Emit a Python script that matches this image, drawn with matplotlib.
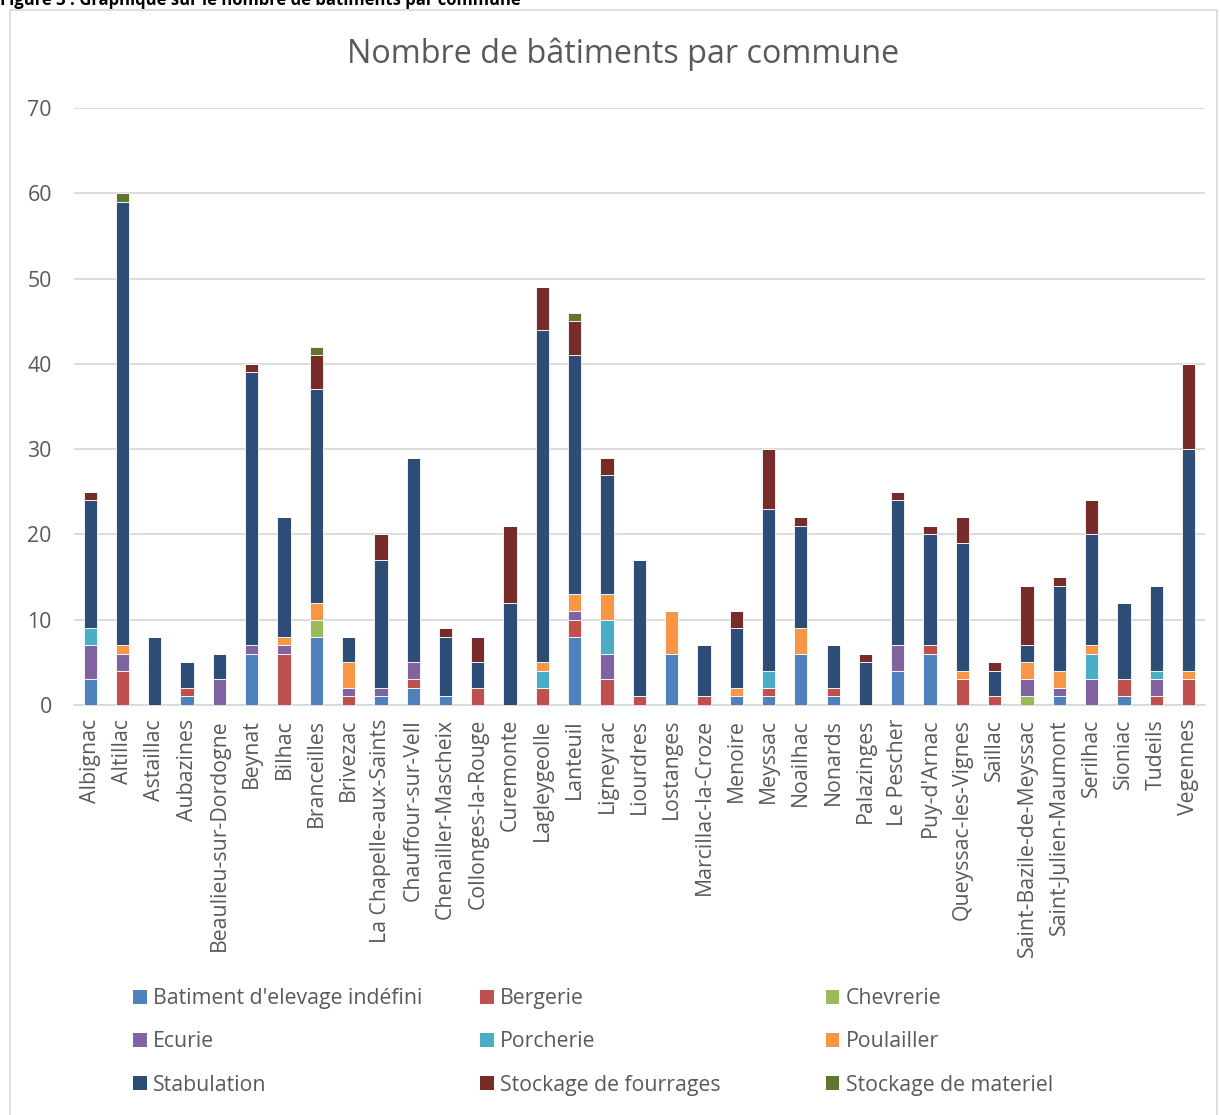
import numpy as np
import matplotlib
matplotlib.use("Agg")
import matplotlib.pyplot as plt
from matplotlib.patches import Rectangle, Patch

plt.rcParams['font.family'] = ['Open Sans', 'DejaVu Sans']

communes = ["Albignac", "Altillac", "Astaillac", "Aubazines", "Beaulieu-sur-Dordogne",
            "Beynat", "Bilhac", "Branceilles", "Brivezac", "La Chapelle-aux-Saints",
            "Chauffour-sur-Vell", "Chenailler-Mascheix", "Collonges-la-Rouge", "Curemonte",
            "Lagleygeolle", "Lanteuil", "Ligneyrac", "Liourdres", "Lostanges",
            "Marcillac-la-Croze", "Menoire", "Meyssac", "Noailhac", "Nonards", "Palazinges",
            "Le Pescher", "Puy-d'Arnac", "Queyssac-les-Vignes", "Saillac",
            "Saint-Bazile-de-Meyssac", "Saint-Julien-Maumont", "Serilhac", "Sioniac",
            "Tudeils", "Vegennes"]

# one value per commune, in the order above
batiment_indefini = [3, 0, 0, 1, 0, 6, 0, 8, 0, 1, 2, 1, 0, 0, 0, 8, 0, 0, 6, 0, 1, 1, 6, 1, 0, 4, 6, 0, 0, 0, 1, 0, 1, 0, 0]
bergerie          = [0, 4, 0, 1, 0, 0, 6, 0, 1, 0, 1, 0, 2, 0, 2, 2, 3, 1, 0, 1, 0, 1, 0, 1, 0, 0, 1, 3, 1, 0, 0, 0, 2, 1, 3]
chevrerie         = [0, 0, 0, 0, 0, 0, 0, 2, 0, 0, 0, 0, 0, 0, 0, 0, 0, 0, 0, 0, 0, 0, 0, 0, 0, 0, 0, 0, 0, 1, 0, 0, 0, 0, 0]
ecurie            = [4, 2, 0, 0, 3, 1, 1, 0, 1, 1, 2, 0, 0, 0, 0, 1, 3, 0, 0, 0, 0, 0, 0, 0, 0, 3, 0, 0, 0, 2, 1, 3, 0, 2, 0]
porcherie         = [2, 0, 0, 0, 0, 0, 0, 0, 0, 0, 0, 0, 0, 0, 2, 0, 4, 0, 0, 0, 0, 2, 0, 0, 0, 0, 0, 0, 0, 0, 0, 3, 0, 1, 0]
poulailler        = [0, 1, 0, 0, 0, 0, 1, 2, 3, 0, 0, 0, 0, 0, 1, 2, 3, 0, 5, 0, 1, 0, 3, 0, 0, 0, 0, 1, 0, 2, 2, 1, 0, 0, 1]
stabulation       = [15, 52, 8, 3, 3, 32, 14, 25, 3, 15, 24, 7, 3, 12, 39, 28, 14, 16, 0, 6, 7, 19, 12, 5, 5, 17, 13, 15, 3, 2, 10, 13, 9, 10, 26]
stockage_fourrage = [1, 0, 0, 0, 0, 1, 0, 4, 0, 3, 0, 1, 3, 9, 5, 4, 2, 0, 0, 0, 2, 7, 1, 0, 1, 1, 1, 3, 1, 7, 1, 4, 0, 0, 10]
stockage_materiel = [0, 1, 0, 0, 0, 0, 0, 1, 0, 0, 0, 0, 0, 0, 0, 1, 0, 0, 0, 0, 0, 0, 0, 0, 0, 0, 0, 0, 0, 0, 0, 0, 0, 0, 0]

series = [
    ("Batiment d'elevage indéfini", batiment_indefini, "#4F81BD"),
    ("Bergerie", bergerie, "#C0504D"),
    ("Chevrerie", chevrerie, "#9BBB59"),
    ("Ecurie", ecurie, "#8064A2"),
    ("Porcherie", porcherie, "#4BACC6"),
    ("Poulailler", poulailler, "#F79646"),
    ("Stabulation", stabulation, "#2C4D75"),
    ("Stockage de fourrages", stockage_fourrage, "#772C2A"),
    ("Stockage de materiel", stockage_materiel, "#5F7530"),
]

grey = "#595959"

fig = plt.figure(figsize=(12.21, 11.15), dpi=100)
ax = fig.add_axes([0.0606, 0.3677, 0.926, 0.5354])

x = np.arange(len(communes))
bottom = np.zeros(len(communes))
for name, vals, col in series:
    vals = np.array(vals, dtype=float)
    ax.bar(x, vals, 0.41, bottom=bottom, color=col, edgecolor="#FFFFFF",
           linewidth=0.6, label=name, zorder=3)
    bottom += vals

ax.set_xlim(-0.5, len(communes) - 0.5)
ax.set_ylim(0, 70)
ax.set_yticks(range(0, 71, 10))
ax.yaxis.grid(True, color="#D9D9D9", linewidth=1.3, zorder=0)
for s in ["top", "right", "left"]:
    ax.spines[s].set_visible(False)
ax.spines["bottom"].set_color("#D9D9D9")
ax.spines["bottom"].set_linewidth(1.3)
ax.tick_params(axis="both", length=0, colors=grey, labelsize=15.3)
ax.tick_params(axis="y", pad=16)
ax.tick_params(axis="x", pad=10)
ax.set_xticks(x)
ax.set_xticklabels(communes, rotation=90)

fig.text(0.51, 0.951, "Nombre de bâtiments par commune", ha="center", va="center",
         fontsize=23.3, color=grey)

# caption cut off at the very top, as in the source page
fig.text(0.0, 1.0, "Figure 3 : Graphique sur le nombre de bâtiments par commune",
         ha="left", va="center", fontsize=12, fontweight="bold", color="black")

# chart border
fig.patches.append(Rectangle((0.008, -0.01), 0.989, 1.001, transform=fig.transFigure,
                             fill=False, edgecolor="#D9D9D9", linewidth=1.2))

# legend laid out row-wise in three columns
cols_x = [0.1087, 0.3929, 0.6762]
for c in range(3):
    handles = []
    for r in range(3):
        name, _, col = series[r * 3 + c]
        handles.append(Patch(facecolor=col, edgecolor="none", label=name))
    fig.legend(handles=handles, loc="upper left", bbox_to_anchor=(cols_x[c], 0.1136),
               frameon=False, fontsize=15.3, labelcolor=grey, handlelength=0.65,
               handleheight=0.65, handletextpad=0.3, labelspacing=1.04, borderpad=0,
               borderaxespad=0)

fig.savefig("out.png", dpi=100)
